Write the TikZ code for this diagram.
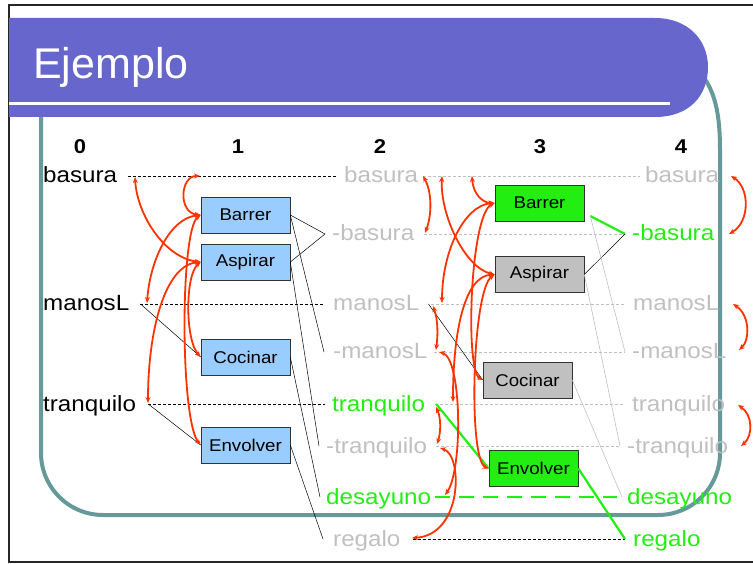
\documentclass[tikz,border=0pt]{standalone}
\usepackage{fontspec}
\setmainfont{Liberation Sans}[FakeStretch=1.1]
\newfontfamily\titlefont{Liberation Sans}
\usetikzlibrary{arrows.meta}
\definecolor{titlebar}{RGB}{102,102,204}
\definecolor{frameteal}{RGB}{102,153,153}
\definecolor{litegray}{RGB}{192,192,192}
\definecolor{brightgreen}{RGB}{34,238,17}
\definecolor{actblue}{RGB}{153,204,255}
\definecolor{actgray}{RGB}{192,192,192}
\definecolor{mutexred}{RGB}{255,51,0}
\begin{document}
\begin{tikzpicture}[x=1pt,y=-1pt,
  lit/.style={inner sep=0pt, anchor=west, text height=18pt, text depth=4pt,
              font=\fontsize{22}{24}\selectfont},
  hdr/.style={inner sep=0pt, font=\fontsize{20}{22}\selectfont\bfseries},
  act/.style={draw=black!80, line width=0.6pt, minimum width=89pt, minimum height=36pt,
              inner sep=0pt, font=\fontsize{17}{19}\selectfont},
  blackdash/.style={black, line width=0.6pt, dash pattern=on 3pt off 2pt},
  graydash/.style={litegray, line width=0.6pt, dash pattern=on 3pt off 2pt},
  greendash/.style={brightgreen, line width=2.6pt, dash pattern=on 15pt off 9pt},
  thinblk/.style={black, line width=0.5pt},
  thingray/.style={litegray, line width=0.6pt},
  greenln/.style={brightgreen, line width=2.2pt},
  mutex/.style={draw=mutexred, line width=1.8pt,
                {Stealth[length=6pt,width=5pt]}-{Stealth[length=6pt,width=5pt]}}]
\useasboundingbox (0,0) rectangle (753,564);

% slide border
\draw[black!85, line width=1.6pt] (770,5) -- (9,5) -- (9,562) -- (770,562);

% content frame
\draw[frameteal, line width=4pt, rounded corners=62pt] (41,90) -- (41,515) -- (720,515) -- (720,150);
\draw[frameteal, line width=4pt] (720,150) .. controls (720,110) and (714,90) .. (700,72);

% title bar
\fill[titlebar] (9,18) -- (655,18) .. controls (688,18) and (708,40) .. (708,67)
  .. controls (708,95) and (690,117) .. (655,117) -- (9,117) -- cycle;
\draw[white, line width=3pt] (9,104) -- (670,104);
\node[anchor=base west, inner sep=0pt, text=white, font=\titlefont\fontsize{43}{46}\selectfont]
  (title) at (33,79) {Ejemplo};

% level headers
\node[hdr] (h0) at (80,147) {0};
\node[hdr] (h1) at (238,147) {1};
\node[hdr] (h2) at (380,147) {2};
\node[hdr] (h3) at (540,147) {3};
\node[hdr] (h4) at (681,147) {4};

% level 0 literals
\node[lit] (b0) at (43,176) {basura};
\node[lit] (m0) at (43,304) {manosL};
\node[lit] (t0) at (43,404) {tranquilo};

% level 2 literals
\node[lit, litegray] (b2) at (344,176) {basura};
\node[lit, litegray] (nb2) at (332,234) {-basura};
\node[lit, litegray] (m2) at (333,304) {manosL};
\node[lit, litegray] (nm2) at (333,352) {-manosL};
\node[lit, brightgreen] (t2) at (332,404) {tranquilo};
\node[lit, litegray] (nt2) at (326,446) {-tranquilo};
\node[lit, brightgreen] (d2) at (326,497) {desayuno};
\node[lit, litegray] (r2) at (333,539) {regalo};

% level 4 literals
\node[lit, litegray] (b4) at (645,176) {basura};
\node[lit, brightgreen] (nb4) at (632,234) {-basura};
\node[lit, litegray] (m4) at (633,304) {manosL};
\node[lit, litegray] (nm4) at (632,352) {-manosL};
\node[lit, litegray] (t4) at (632,404) {tranquilo};
\node[lit, litegray] (nt4) at (627,446) {-tranquilo};
\node[lit, brightgreen] (d4) at (627,497) {desayuno};
\node[lit, brightgreen] (r4) at (633,539) {regalo};

% level 1 actions
\node[act, fill=actblue] (A1) at (245.5,215) {Barrer};
\node[act, fill=actblue] (B1) at (245.5,262) {Aspirar};
\node[act, fill=actblue] (C1) at (245.5,357) {Cocinar};
\node[act, fill=actblue] (D1) at (245.5,445) {Envolver};

% level 3 actions
\node[act, fill=brightgreen] (A3) at (539.5,203) {Barrer};
\node[act, fill=actgray] (B3) at (539.5,274.5) {Aspirar};
\node[act, fill=actgray] (C3) at (527.5,380) {Cocinar};
\node[act, fill=brightgreen] (D3) at (533.5,468.5) {Envolver};

% attachment points in front of the literals
\coordinate (nb2p) at ([xshift=-7pt]nb2.west);
\coordinate (nm2p) at ([xshift=-9pt]nm2.west);
\coordinate (nt2p) at ([xshift=-7pt]nt2.west);
\coordinate (d2p) at ([xshift=-6pt]d2.west);
\coordinate (r2p) at ([xshift=-10pt]r2.west);
\coordinate (nb4p) at ([xshift=-7pt]nb4.west);
\coordinate (nm4p) at ([xshift=-7pt]nm4.west);
\coordinate (nt4p) at ([xshift=-7pt]nt4.west);
\coordinate (d4p) at ([xshift=-5pt]d4.west);
\coordinate (r4p) at ([xshift=-8pt]r4.west);
\coordinate (A3o) at ([shift={(6,13)}]A3.east);

% persistence (no-op) links
\draw[blackdash] ([xshift=11pt]b0.east) -- ([xshift=-7pt]b2.west);
\draw[blackdash] ([xshift=11pt]m0.east) -- ([xshift=-10pt]m2.west);
\draw[blackdash] ([xshift=12pt]t0.east) -- ([xshift=-7pt]t2.west);
\draw[graydash] ([xshift=5pt]b2.east) -- ([xshift=-5pt]b4.west);
\draw[graydash] ([xshift=10pt]nb2.east) -- (nb4p);
\draw[graydash] ([xshift=12pt]m2.east) -- (nm4p |- m4.west);
\draw[graydash] ([xshift=6pt]nm2.east) -- (nm4p);
\draw[graydash] ([xshift=10pt]t2.east) -- (nm4p |- t4.west);
\draw[graydash] ([xshift=9pt]nt2.east) -- (nt4p);
\draw[greendash] ([xshift=4pt]d2.east) -- ([xshift=-10pt]d4.west);
\draw[blackdash] ([xshift=12pt]r2.east) -- (r4p);

% preconditions and effects, level 1
\draw[thinblk] ([xshift=11pt]m0.east) -- (C1.west);
\draw[thinblk] ([xshift=12pt]t0.east) -- (D1.west);
\draw[thinblk] (A1.east) -- (nb2p) -- (B1.east);
\draw[thinblk] (A1.east) -- (nm2p);
\draw[thinblk] (B1.east) -- (nt2p);
\draw[thinblk] (C1.east) -- (d2p);
\draw[thinblk] (D1.east) -- (r2p);

% preconditions and effects, level 3
\draw[thinblk] ([xshift=9pt]m2.east) -- (C3.west);
\draw[greenln] ([xshift=11pt]t2.east) -- (D3.west);
\draw[greenln] (A3o) -- (nb4p);
\draw[thinblk] (B3.east) -- (nb4p);
\draw[thingray] (A3o) -- (nm4p);
\draw[thingray] (B3.east) -- (nt4p);
\draw[thingray] (C3.east) -- (d4p);
\draw[greenln] (D3.east) -- (r4p);

% mutex end points
\coordinate (xb0) at (135,177);
\coordinate (xb1) at (200,176);
\coordinate (xm0) at (147,303);
\coordinate (xt0) at (148,403);
\coordinate (yb2) at (423,176);
\coordinate (ynb2) at (425,233);
\coordinate (yb2b) at (442,176);
\coordinate (yb2c) at (472,176);
\coordinate (ym2) at (442,303);
\coordinate (ym2a) at (433,306);
\coordinate (ynm2) at (436,350);
\coordinate (ynm2b) at (439,352);
\coordinate (yd2) at (445,495);
\coordinate (yt2) at (453,402);
\coordinate (yt2a) at (436,407);
\coordinate (ynt2) at (437,444);
\coordinate (ynt2b) at (440,448);
\coordinate (yr2) at (412,538);
\coordinate (zb4) at (731,176);
\coordinate (znb4) at (729,234);
\coordinate (zm4) at (733,304);
\coordinate (znm4) at (739,350);
\coordinate (zt4) at (738,405);
\coordinate (znt4) at (741,446);

% mutex links, level 1
\draw[mutex] (xb0) .. controls (137,215) and (165,258) .. (B1.west);
\draw[mutex] (xb1) .. controls (180,176) and (178,213) .. (A1.west);
\draw[mutex] (A1.west) .. controls (170,218) and (150,260) .. (xm0);
\draw[mutex] (B1.west) .. controls (165,265) and (148,330) .. (xt0);
\draw[mutex] (A1.west) .. controls (180,230) and (180,420) .. (D1.west);
\draw[mutex] (B1.west) .. controls (185,275) and (185,340) .. (C1.west);

% mutex links, level 2 and 3
\draw[mutex] (yb2) .. controls (432,192) and (432,215) .. (ynb2);
\draw[mutex] (yb2b) .. controls (440,215) and (465,268) .. (B3.west);
\draw[mutex] (yb2c) .. controls (473,193) and (482,203) .. (A3.west);
\draw[mutex] (A3.west) .. controls (465,205) and (442,250) .. (ym2);
\draw[mutex] (ym2a) .. controls (438,320) and (438,335) .. (ynm2);
\draw[mutex] (ynm2b) .. controls (462,358) and (463,470) .. (yd2);
\draw[mutex] (B3.west) .. controls (465,276) and (453,330) .. (yt2);
\draw[mutex] (yt2a) .. controls (441,418) and (441,432) .. (ynt2);
\draw[mutex] (ynt2b) .. controls (463,455) and (463,535) .. (yr2);
\draw[mutex] (A3.west) .. controls (470,215) and (465,370) .. (C3.west);
\draw[mutex] (B3.west) .. controls (472,290) and (468,460) .. (D3.west);

% mutex links, level 4
\draw[mutex] (zb4) .. controls (750,188) and (750,222) .. (znb4);
\draw[mutex] (zm4) .. controls (750,315) and (750,340) .. (znm4);
\draw[mutex] (zt4) .. controls (753,415) and (753,436) .. (znt4);
\end{tikzpicture}
\end{document}
